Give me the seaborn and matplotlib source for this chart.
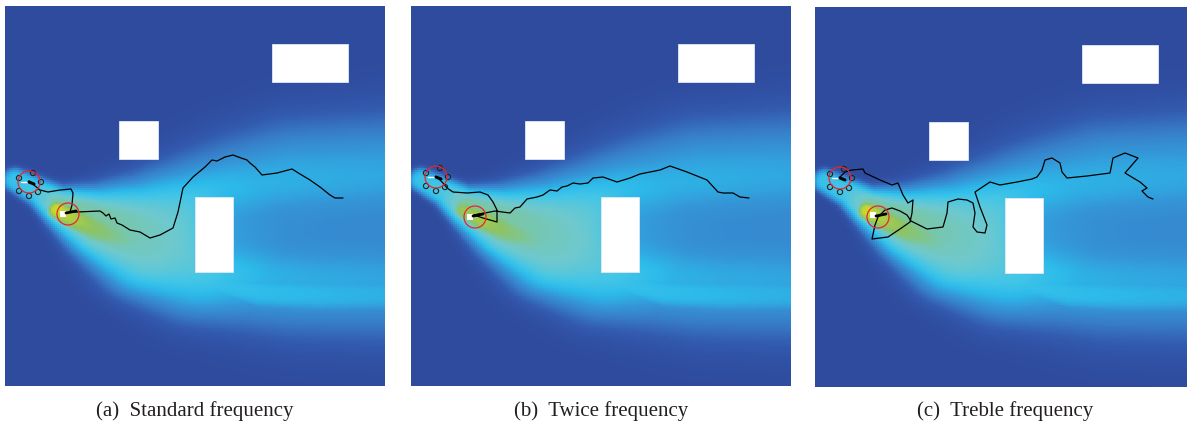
import numpy as np
import matplotlib
matplotlib.use("Agg")
import matplotlib.pyplot as plt
from matplotlib.colors import LinearSegmentedColormap
from matplotlib.patches import Rectangle, Circle
import seaborn as sns

sns.set_theme(style="white")
plt.rcParams["font.family"] = ["Liberation Serif", "DejaVu Serif"]

# ---- domain (square arena, 380 x 380 units, y measured downwards) ----
SIZE = 380
N = 190
CELL = SIZE / N

# obstacles: left, top, width, height
obs_x = [267, 114, 190]
obs_y = [38, 115, 191]
obs_w = [76, 39, 38]
obs_h = [38, 38, 75]

# main plume body: centreline, half-width and concentration level
body_x = [10, 35, 55, 95, 145, 195, 245, 295, 390]
body_y = [174, 187, 201, 218, 232, 233, 226, 222, 220]
body_w = [9, 11, 15, 28, 45, 58, 68, 76, 80]
body_c = [0.6, 0.66, 0.8, 0.8, 0.76, 0.68, 0.57, 0.54, 0.51]

# concentrated core just downstream of the source
core_x = [52, 72, 95, 122]
core_y = [204, 214, 225, 234]
core_w = [10, 14, 16, 17]
core_c = [1.0, 0.92, 0.86, 0.79]

# lower branch passing under the tall obstacle
lower_x = [175, 210, 255, 315, 390]
lower_y = [256, 277, 286, 288, 288]
lower_w = [18, 14, 16, 18, 18]
lower_c = [0.66, 0.6, 0.57, 0.54, 0.51]

# concentration deficit in the wake of the tall obstacle (fractional)
wake_x = [231, 300, 390]
wake_y = [224, 224, 222]
wake_w = [24, 26, 28]
wake_d = [0.32, 0.32, 0.3]

# source strength seen in each run
source_level = [1.0, 0.9, 1.0]

# source (white marker) and the two red search circles per run
src_x = [55, 56, 55]
src_y = [205, 208, 205]
circ_up_x = [24, 25, 25]
circ_up_y = [176, 171, 171]
circ_src_x = [63, 64, 63]
circ_src_y = [208, 211, 210]
circ_r = 11

# robot formation around the upper circle (offsets from its centre)
robot_dx = [-10, 4, 12, 9, 0, -10]
robot_dy = [-4, -9, 0, 10, 14, 9]

# trajectories of the formation centre
traj_a_x = [24, 35, 43, 55, 66, 68, 67, 65, 72, 95, 98, 101, 104, 106, 110, 112, 117, 125, 135,
            145, 155, 168, 173, 178, 188, 200, 207, 212, 220, 228, 236, 242, 245, 250, 257, 272,
            287, 295, 305, 315, 325, 330, 338]
traj_a_y = [175, 184, 186, 184, 183, 187, 199, 206, 206, 205, 207, 210, 208, 213, 212, 217, 219,
            224, 226, 232, 229, 222, 206, 182, 171, 161, 154, 155, 151, 149, 152, 154, 157, 161,
            169, 167, 163, 168, 174, 181, 189, 192, 192]

traj_b_x = [26, 32, 36, 42, 56, 69, 77, 82, 86, 86, 72, 63, 74, 84, 99, 104, 109, 116, 121, 126,
            132, 139, 146, 151, 156, 162, 169, 177, 182, 192, 206, 219, 229, 249, 259, 276, 296,
            307, 312, 322, 329, 338]
traj_b_y = [171, 177, 182, 186, 187, 186, 189, 196, 204, 216, 212, 209, 207, 205, 207, 202, 201,
            193, 192, 191, 189, 184, 185, 181, 180, 177, 178, 177, 172, 171, 176, 172, 168, 164,
            160, 166, 174, 186, 187, 187, 191, 192]

traj_c_x = [24, 30, 37, 48, 50, 65, 77, 83, 88, 93, 98, 97, 95, 85, 73, 57, 60, 63, 70, 77, 85,
            92, 96, 112, 128, 132, 133, 143, 152, 158, 160, 158, 162, 170, 172, 165, 160, 175,
            185, 202, 217, 222, 227, 230, 237, 245, 247, 252, 272, 295, 298, 310, 323, 310, 325,
            332, 327, 333, 338]
traj_c_y = [171, 165, 163, 162, 166, 173, 178, 176, 188, 196, 193, 206, 215, 222, 230, 232, 218,
            210, 203, 201, 204, 208, 214, 222, 220, 206, 195, 192, 193, 196, 206, 220, 225, 226,
            218, 200, 185, 175, 178, 175, 172, 170, 163, 153, 151, 156, 165, 171, 169, 166, 151,
            146, 151, 166, 175, 181, 184, 190, 192]

trajectories = [(traj_a_x, traj_a_y), (traj_b_x, traj_b_y), (traj_c_x, traj_c_y)]
captions = ["(a)  Standard frequency", "(b)  Twice frequency", "(c)  Treble frequency"]

# colour ramp: deep blue -> cyan -> teal -> green -> yellow
cmap = LinearSegmentedColormap.from_list("plume", [
    (0.00, "#2f4b9e"), (0.15, "#325aaf"), (0.30, "#377dc8"), (0.42, "#3496d7"),
    (0.55, "#2cbaea"), (0.65, "#44c6e6"), (0.75, "#6ec8cd"), (0.88, "#8cc364"),
    (1.00, "#cdd728")])

gx = (np.arange(N) + 0.5) * CELL
GX, GY = np.meshgrid(gx, gx)


def band(px, py, pw, pc, power=1.5, samples=300):
    """Ridge of values following a polyline of control points."""
    px, py = np.asarray(px, float), np.asarray(py, float)
    s = np.r_[0, np.cumsum(np.hypot(np.diff(px), np.diff(py)))]
    t = np.linspace(0, s[-1], samples)
    cx, cy = np.interp(t, s, px), np.interp(t, s, py)
    cw, cc = np.interp(t, s, pw), np.interp(t, s, pc)
    out = np.zeros_like(GX)
    for x0, y0, w, c in zip(cx, cy, cw, cc):
        d2 = ((GX - x0) ** 2 + (GY - y0) ** 2) / (2 * w * w)
        out = np.maximum(out, c * np.exp(-d2 ** power))
    return out


body = band(body_x, body_y, body_w, body_c, power=2.0)
lower = band(lower_x, lower_y, lower_w, lower_c, power=1.3)
wake = band(wake_x, wake_y, wake_w, wake_d, power=1.5)

fig = plt.figure(figsize=(11.87, 4.29), dpi=100)
W, H = 1187, 429
lefts = [5, 411, 815]
tops = [6, 6, 7]


def c(v):
    return np.asarray(v, float) / CELL


for k in range(3):
    ax = fig.add_axes([lefts[k] / W, (H - tops[k] - 380) / H, 380 / W, 380 / H])
    cc = np.array(core_c) * np.r_[source_level[k], np.ones(len(core_c) - 1)]
    core = band(core_x, core_y, core_w, cc, power=1.5)
    field = np.maximum.reduce([body, lower, core]) * (1 - wake)
    sns.heatmap(field, ax=ax, cmap=cmap, vmin=0, vmax=1, cbar=False,
                xticklabels=False, yticklabels=False, rasterized=True)
    ax.set_xlim(0, N)
    ax.set_ylim(N, 0)

    for ox, oy, ow, oh in zip(obs_x, obs_y, obs_w, obs_h):
        ax.add_patch(Rectangle((c(ox), c(oy)), c(ow), c(oh), facecolor="white",
                               edgecolor="#dfe8f5", lw=0.6, zorder=3))

    tx, ty = trajectories[k]
    ax.plot(c(tx), c(ty), color="black", lw=0.9, zorder=4)

    # source marker
    ax.add_patch(Rectangle((c(src_x[k]), c(src_y[k])), c(6), c(6), facecolor="white",
                           edgecolor="none", zorder=5))
    # formation around the first circle
    for dx, dy in zip(robot_dx, robot_dy):
        ax.add_patch(Circle((c(circ_up_x[k] + dx), c(circ_up_y[k] + dy)), c(2.6),
                            facecolor="none", edgecolor="#222222", lw=0.8, zorder=5))
    ax.plot(c([circ_up_x[k] - 8, circ_up_x[k] - 2]), c([circ_up_y[k], circ_up_y[k]]),
            color="white", lw=1.0, zorder=5)
    ax.plot(c([circ_up_x[k], circ_up_x[k] + 5]), c([circ_up_y[k], circ_up_y[k] + 2]),
            color="black", lw=2.2, zorder=5)
    ax.plot(c([circ_src_x[k] - 2, circ_src_x[k] + 8]), c([circ_src_y[k] - 1, circ_src_y[k] - 3]),
            color="black", lw=2.0, zorder=5)
    for cx0, cy0 in [(circ_up_x[k], circ_up_y[k]), (circ_src_x[k], circ_src_y[k])]:
        ax.add_patch(Circle((c(cx0), c(cy0)), c(circ_r), facecolor="none",
                            edgecolor="#e8262a", lw=0.9, zorder=6))
    ax.set_axis_off()

    fig.text((lefts[k] + 190) / W, (H - 411) / H, captions[k], ha="center", va="center",
             fontsize=15, color="#231f20")

fig.savefig("out.png", dpi=100)
